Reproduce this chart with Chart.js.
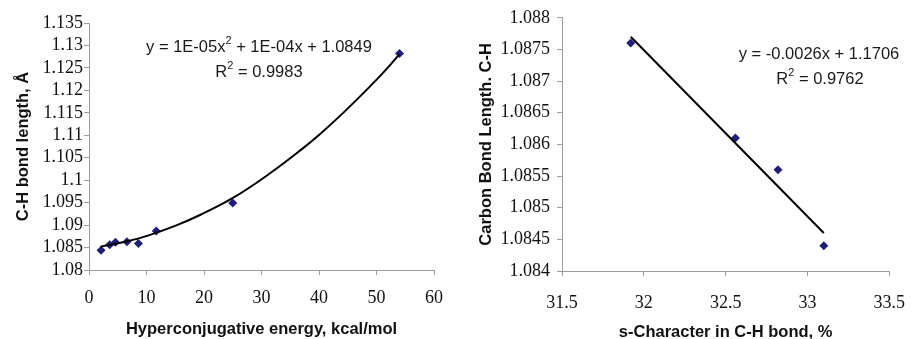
<!DOCTYPE html>
<html lang="en">
<head>
<title>C-H bond length</title>
<script src="https://cdn.jsdelivr.net/npm/chart.js"></script>
<style>
  body { margin: 0; background: #fff; }
  #wrap { position: relative; width: 921px; height: 339px; }
  canvas { position: absolute; top: 0; }
</style>
</head>
<body>
<div id="wrap">
  <canvas id="chartLeft" width="460" height="339" style="left:0"></canvas>
  <canvas id="chartRight" width="461" height="339" style="left:460px"></canvas>
</div>

<script>
// left plot: hyperconjugative energy vs C-H bond length
const energyX  = [2.1, 3.6, 4.6, 6.6, 8.6, 11.7, 25.0, 54.0];
const bondLenY = [1.0844, 1.0856, 1.0862, 1.0863, 1.0859, 1.0887, 1.0949, 1.1282];
// 2nd order trendline, sampled along its run
const polyX = [2.0, 6.6, 10.1, 15.3, 19.4, 25.1, 31.0, 36.8, 40.2, 44.3, 50.1, 54.0];
const polyY = [1.0852, 1.0864, 1.0876, 1.0900, 1.0923, 1.0961, 1.1011, 1.1067, 1.1103, 1.1151, 1.1225, 1.1280];

// right plot: s-character vs carbon bond length
const sCharX     = [31.92, 32.56, 32.82, 33.10];
const carbonLenY = [1.0876, 1.0861, 1.0856, 1.0844];
// linear trendline ends
const linX = [31.92, 33.10];
const linY = [1.0877, 1.0846];

const AXIS_GRAY = '#9c9c9c';
const TICK_FONT = { family: 'Liberation Serif', size: 18 };
const TITLE_FONT = { family: 'Liberation Sans', size: 16.5, weight: 'bold', lineHeight: 1 };
const EQ_SIZE = 16.5;
const MARK = '#1f1f7a';

function pts(xs, ys) {
  return xs.map((x, i) => ({ x: x, y: ys[i] }));
}

// trim float noise from tick values (1.0850000001 -> 1.085)
function tickFmt(v) {
  return String(parseFloat(v.toFixed(4)));
}

// text with a superscript "2", drawn centered on (x, y)
const eqLabel = {
  id: 'eqLabel',
  afterDraw(chart, args, opts) {
    const ctx = chart.ctx;
    ctx.save();
    ctx.fillStyle = '#1a1a1a';
    ctx.textBaseline = 'middle';
    ctx.textAlign = 'left';
    opts.lines.forEach(line => {
      let w = 0;
      line.parts.forEach(p => {
        ctx.font = (p.sup ? 11 : EQ_SIZE) + 'px "Liberation Sans"';
        w += ctx.measureText(p.t).width;
      });
      let x = line.x - w / 2;
      line.parts.forEach(p => {
        ctx.font = (p.sup ? 11 : EQ_SIZE) + 'px "Liberation Sans"';
        ctx.fillText(p.t, x, p.sup ? line.y - 6 : line.y);
        x += ctx.measureText(p.t).width;
      });
    });
    ctx.restore();
  }
};

function xAxis(min, max, step, title, h, tickPad, titlePad) {
  return {
    type: 'linear', min: min, max: max,
    border: { color: AXIS_GRAY, width: 1 },
    grid: { drawOnChartArea: false, drawTicks: true, tickLength: 5, color: AXIS_GRAY },
    ticks: { stepSize: step, font: TICK_FONT, color: '#111', padding: tickPad, maxRotation: 0,
             autoSkip: false, callback: tickFmt },
    title: { display: true, text: title, font: TITLE_FONT, color: '#111', padding: { bottom: titlePad } },
    afterFit: s => { s.height = h; }
  };
}

function yAxis(min, max, step, title, w, tickPad, titlePad) {
  return {
    type: 'linear', min: min, max: max,
    border: { color: AXIS_GRAY, width: 1 },
    grid: { drawOnChartArea: false, drawTicks: true, tickLength: 5, color: AXIS_GRAY },
    ticks: { stepSize: step, font: TICK_FONT, color: '#111', padding: tickPad,
             autoSkip: false, callback: tickFmt },
    title: { display: true, text: title, font: TITLE_FONT, color: '#111', padding: { top: titlePad } },
    afterFit: s => { s.width = w; }
  };
}

function baseOpts() {
  return {
    responsive: false,
    animation: false,
    devicePixelRatio: 1,
    plugins: { legend: { display: false }, tooltip: { enabled: false } }
  };
}

// ---- left chart ----
const optL = baseOpts();
optL.layout = { padding: { left: 0, top: 23, right: 26, bottom: 0 } };
optL.scales = {
  x: xAxis(0, 60, 10, 'Hyperconjugative energy, kcal/mol', 69, 12, 1),
  y: yAxis(1.08, 1.135, 0.005, 'C-H bond length, Å', 89, 1, 15)
};
optL.plugins.eqLabel = { lines: [
  { x: 259, y: 47, parts: [{ t: 'y = 1E-05x' }, { t: '2', sup: true }, { t: ' + 1E-04x + 1.0849' }] },
  { x: 259, y: 72, parts: [{ t: 'R' }, { t: '2', sup: true }, { t: ' = 0.9983' }] }
]};

new Chart(document.getElementById('chartLeft'), {
  type: 'scatter',
  data: {
    datasets: [
      { data: pts(polyX, polyY), showLine: true, borderColor: '#000', borderWidth: 2,
        pointRadius: 0, tension: 0.4 },
      { data: pts(energyX, bondLenY), pointStyle: 'rectRot', pointRadius: 4.5,
        backgroundColor: MARK, borderColor: MARK, borderWidth: 0 }
    ]
  },
  options: optL,
  plugins: [eqLabel]
});

// ---- right chart ----
const optR = baseOpts();
optR.layout = { padding: { left: 0, top: 17, right: 17, bottom: 0 } };
optR.scales = {
  x: xAxis(31.5, 33.5, 0.5, 's-Character in C-H bond, %', 68, 16, -2),
  y: yAxis(1.084, 1.088, 0.0005, 'Carbon Bond Length. C-H', 102, 7, 18)
};
optR.plugins.eqLabel = { lines: [
  { x: 359, y: 54, parts: [{ t: 'y = -0.0026x + 1.1706' }] },
  { x: 360, y: 79, parts: [{ t: 'R' }, { t: '2', sup: true }, { t: ' = 0.9762' }] }
]};

new Chart(document.getElementById('chartRight'), {
  type: 'scatter',
  data: {
    datasets: [
      { data: pts(linX, linY), showLine: true, borderColor: '#000', borderWidth: 2, pointRadius: 0 },
      { data: pts(sCharX, carbonLenY), pointStyle: 'rectRot', pointRadius: 4.5,
        backgroundColor: MARK, borderColor: MARK, borderWidth: 0 }
    ]
  },
  options: optR,
  plugins: [eqLabel]
});
</script>
</body>
</html>
